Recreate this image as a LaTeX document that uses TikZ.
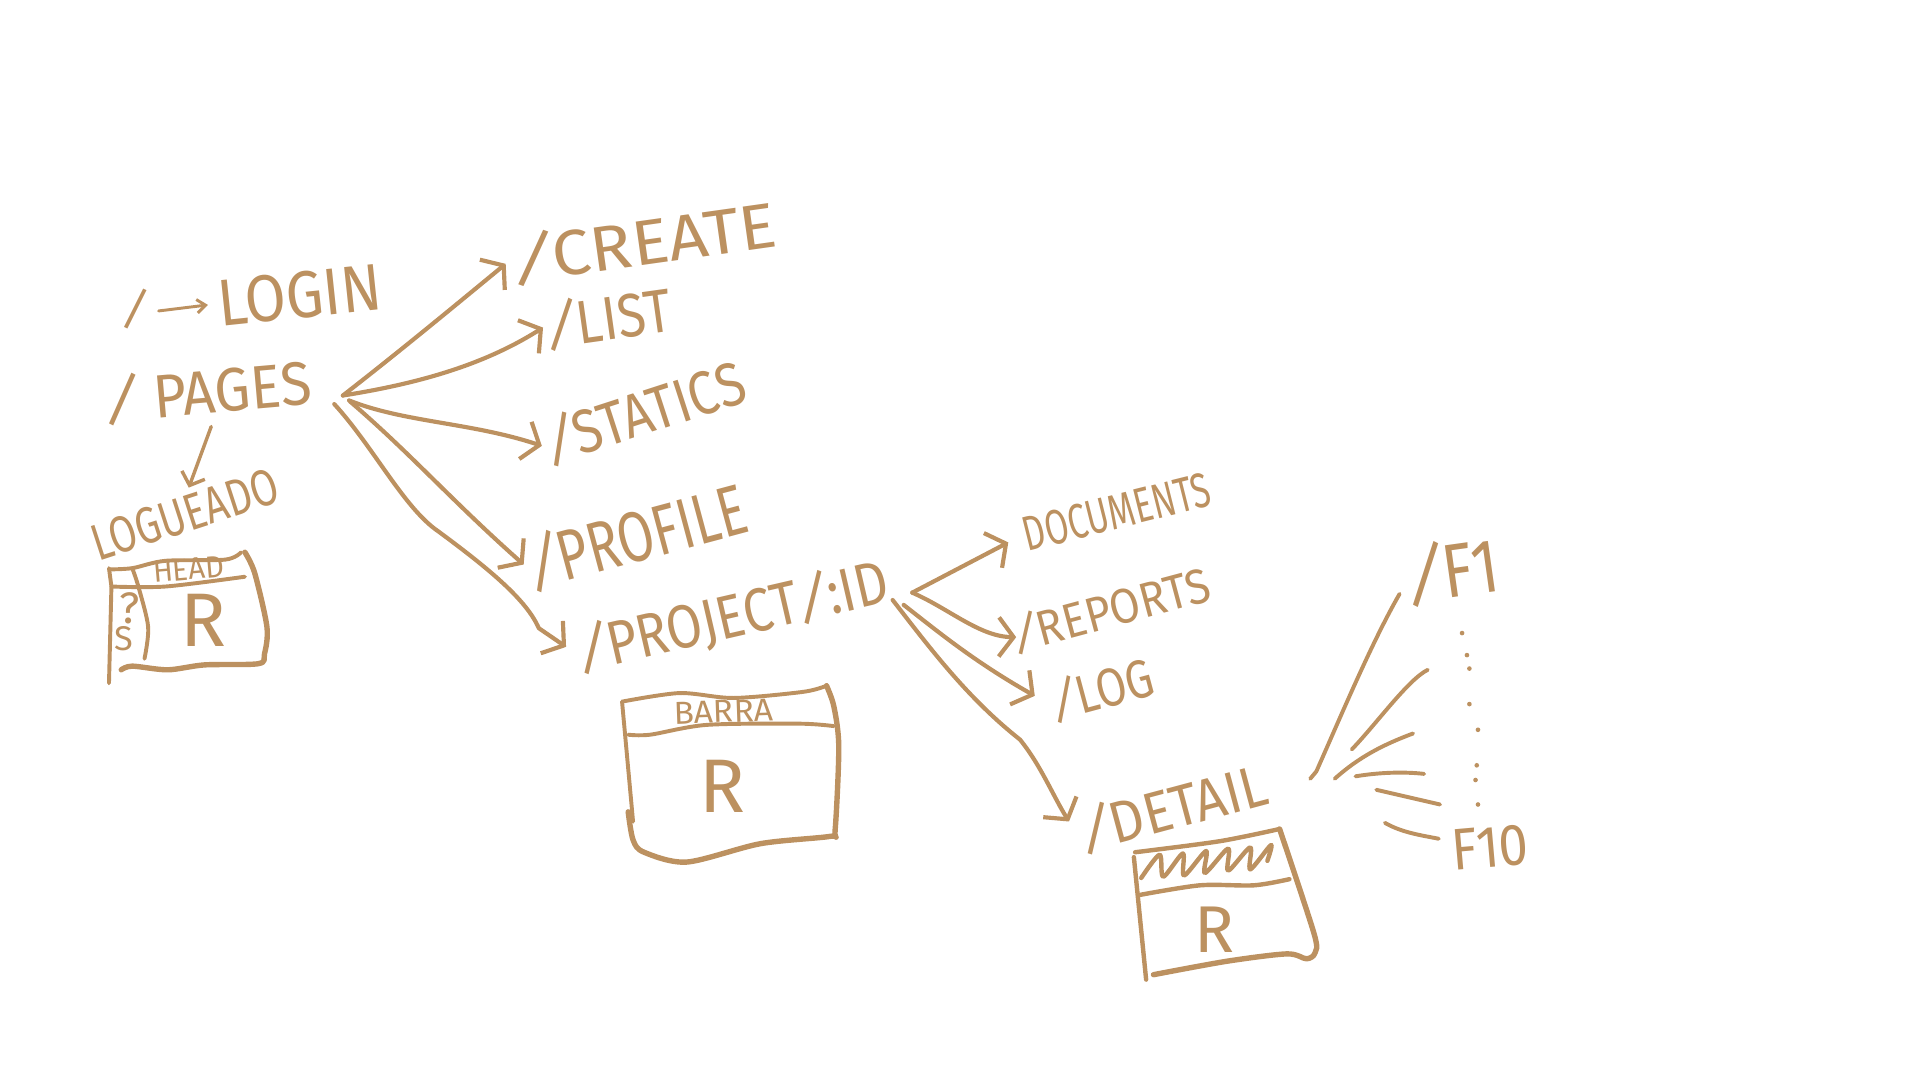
\documentclass[tikz,border=0pt]{standalone}
\usepackage{fontspec}
\usepackage{graphicx}
\setmainfont{Fira Sans}
\newfontfamily\smallfont{Fira Sans}
\usetikzlibrary{arrows.meta}
\definecolor{sketch}{HTML}{BC9160}
\newcommand{\sla}{\kern-.06em\rotatebox[origin=c]{-16}{/}\kern-.1em}
\begin{document}
\begin{tikzpicture}[
        x=1pt,y=-1pt,
        line cap=round,
        line join=round,
        draw=sketch
    ]
    \tikzset{
        lbl/.style = {font=\fontsize{#1}{#1}\selectfont, text=sketch, inner sep=0pt, outer sep=3pt, transform shape},
        lbls/.style = {font=\smallfont\fontsize{#1}{#1}\selectfont, text=sketch, inner sep=0pt, outer sep=3pt, transform shape},
        edgen/.style = {draw=sketch, line width=3.4pt, -{Straight Barb[length=12pt,width=32pt]}},
        edges/.style = {draw=sketch, line width=2.4pt, -{Straight Barb[length=7pt,width=11pt]}},
        rayn/.style = {draw=sketch, line width=3.2pt},
        boxn/.style = {draw=sketch, line width=4.4pt},
        linen/.style = {draw=sketch, line width=3.2pt},
        dotn/.style = {circle, fill=sketch, inner sep=0pt, minimum size=3.8pt},
    }
    \useasboundingbox (0,0) rectangle (1568,882);
    %
    \node[lbl=38,rotate=-12] at (111,252) (root) {/};
    \node[lbl=54,rotate=6,xscale=.9] at (245,241) (login) {LOGIN};
    \node[lbl=50,rotate=5,xscale=.93] at (170,320) (pages) {\sla{} PAGES};
    \node[lbl=42,rotate=18,xscale=.77] at (151,420) (logueado) {LOGUEADO};
    %
    \node[lbl=52,rotate=8,xscale=1.08] at (526,198) (create) {\sla{}CREATE};
    \node[lbl=50,rotate=8,xscale=.85] at (497,260) (list) {\sla{}LIST};
    \node[lbl=50,rotate=18,xscale=.85] at (526,337) (statics) {\sla{}STATICS};
    \node[lbl=58,rotate=15,xscale=.74] at (520,438) (profile) {\sla{}PROFILE};
    \node[lbl=50,rotate=13,xscale=.85] at (598,503) (project) {\sla{}PROJECT\sla{}:ID};
    %
    \node[lbl=40,rotate=14,xscale=.7] at (912,418) (documents) {DOCUMENTS};
    \node[lbl=40,rotate=15,xscale=.9] at (907,498) (reports) {\sla{}REPORTS};
    \node[lbl=44,rotate=15,xscale=.82] at (900,563) (log) {\sla{}LOG};
    \node[lbl=48,rotate=15,xscale=.91] at (958,660) (detail) {\sla{}DETAIL};
    \node[lbl=62,rotate=8,xscale=.82] at (1186,466) (f1) {\sla{}F1};
    \node[lbl=48,rotate=5,xscale=.9] at (1217,692) (f10) {F10};
    %
    \coordinate (pageshub) at (280,323);
    \coordinate (idhub) at (745,484);
    \coordinate (detailhub) at (1070,636);
    %
    \draw[edges,shorten <=6pt,shorten >=6pt] (root.east) -- (login.west);
    \draw[edges,line width=2.8pt,shorten >=5pt,-{Straight Barb[length=9pt,width=20pt]}] (pages.south) -- ([xshift=7pt]logueado.north);
    %
    \draw[edgen,shorten >=3pt] (pageshub) .. controls (325,288) and (365,255) .. (create.west);
    \draw[edgen] (pageshub) .. controls (350,312) and (400,295) .. (list.west);
    \draw[edgen] (285,327) .. controls (330,345) and (385,345) .. (statics.west);
    \draw[edgen,shorten >=2pt] (286,328) .. controls (335,370) and (370,410) .. (profile.west);
    \draw[edgen,shorten >=8pt] (273,330) .. controls (305,365) and (330,415) .. (358,434)
        .. controls (400,465) and (430,490) .. (440,513) -- (project.west);
    %
    \draw[edgen,shorten >=12pt] (idhub) -- (documents.west);
    \draw[edgen,shorten >=-6pt] (idhub) .. controls (775,497) and (800,520) .. (reports.west);
    \draw[edgen,shorten >=13pt] (738,494) .. controls (765,515) and (795,540) .. (log.west);
    \draw[edgen,shorten >=12pt] (729,490) .. controls (760,530) and (790,570) .. (833,604)
        .. controls (850,625) and (860,650) .. (detail.west);
    %
    \draw[rayn] (detailhub) -- (1075,630) .. controls (1095,585) and (1120,525) .. (1143,485);
    \draw[rayn] (1104,612) .. controls (1125,590) and (1150,555) .. (1166,547);
    \draw[rayn] (1090,636) .. controls (1110,618) and (1130,608) .. (1154,599);
    \draw[rayn] (1107,634) .. controls (1125,631) and (1145,630) .. (1163,632);
    \draw[rayn] (1124,645) -- (1176,657);
    \draw[rayn] (1131,672) .. controls (1145,680) and (1160,682) .. (1175,685);
    %
    \foreach \name/\xx/\yy in {d1/1194/517,d2/1198/535,d3/1200/546,d4/1200/575,d5/1207/596,d6/1206/625,d7/1205/637,d8/1207/657}
        \node[dotn] at (\xx,\yy) (\name) {};
    %
    % box under logueado
    \draw[linen] plot[smooth] coordinates {(89,465) (108,464) (135,458) (184,457) (197,451)};
    \draw[linen] (89,464) -- (91,479) -- (89,558);
    \draw[boxn] plot[smooth] coordinates {(200,451) (208,468) (218,512) (216,534) (211,542) (167,543) (137,547) (108,544) (99,547)};
    \draw[linen] plot[smooth] coordinates {(91,479) (135,479) (200,471)};
    \draw[linen] plot[smooth] coordinates {(108,464) (113,479) (121,512) (118,538)};
    \node[lbls=25,rotate=5,xscale=.95] at (154,465) (head) {HEAD};
    \node[lbl=62] at (166,507) (r1) {R};
    \node[lbls=36] at (106,497) (side1) {?};
    \node[lbls=28] at (101,522) (side2) {S};
    %
    % box under project
    \draw[linen] plot[smooth] coordinates {(508,573) (555,566) (599,570) (656,565) (675,560)};
    \draw[boxn] plot[smooth] coordinates {(675,560) (681,577) (685,610) (682,678) (678,683) (621,689) (561,704) (526,696) (517,686) (513,663)};
    \draw[linen] (508,573) -- (517,671);
    \draw[linen] plot[smooth] coordinates {(513,600) (531,600) (577,592) (653,591) (681,593)};
    \node[lbls=26,rotate=2,xscale=1.05] at (591,581) (barra) {BARRA};
    \node[lbl=62] at (590,642) (r2) {R};
    %
    % box under detail
    \draw[boxn,line width=3.6pt] plot[smooth] coordinates {(927,696) (996,687) (1045,677)};
    \draw[boxn,line width=3.6pt] (926,700) -- (936,800);
    \draw[boxn] plot[smooth] coordinates {(1045,677) (1073,762) (1074,778) (1067,783) (1051,779) (1002,785) (942,796)};
    \draw[boxn,line width=3.6pt] plot[smooth] coordinates {(930,731) (980,723) (1024,723) (1053,718)};
    \draw[boxn,line width=3.6pt] plot[smooth] coordinates {(932,717) (947,698) (950,716) (966,697) (967,715) (985,695) (984,713) (1003,693) (1003,711) (1021,692) (1021,710) (1038,690) (1035,703)};
    \node[lbl=54] at (992,759) (r3) {R};
\end{tikzpicture}
\end{document}
